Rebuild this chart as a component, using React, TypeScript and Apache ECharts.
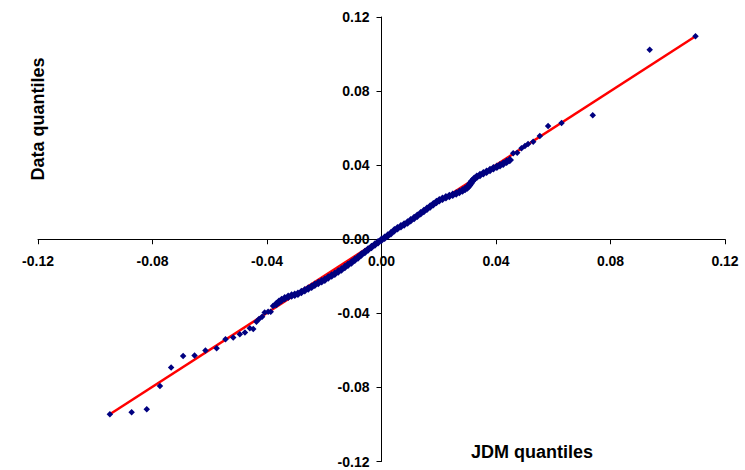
import React, { useEffect, useRef } from "react";
import * as echarts from "echarts";

// Theoretical (JDM) quantiles and the matching empirical data quantiles.
// Lower tail, dense centre, upper tail.
const lowerTail: [number, number][] = [
  [-0.0949, -0.0945], [-0.0873, -0.0934], [-0.082, -0.0918], [-0.0774, -0.0792],
  [-0.0735, -0.0693], [-0.0693, -0.063], [-0.0653, -0.0628], [-0.0615, -0.0601],
  [-0.0576, -0.0588], [-0.0545, -0.054], [-0.0518, -0.0531], [-0.0495, -0.0513],
  [-0.0477, -0.0504], [-0.046, -0.048], [-0.0448, -0.0484], [-0.0437, -0.0445],
  [-0.0428, -0.043], [-0.0417, -0.0418], [-0.0408, -0.0396], [-0.0396, -0.0391],
  [-0.0387, -0.0391], [-0.0379, -0.036], [-0.0373, -0.0355],
];

const centre: [number, number][] = [
  [-0.0367, -0.0349], [-0.0358, -0.0338], [-0.0349, -0.0328], [-0.0338, -0.0319],
  [-0.0326, -0.031], [-0.0314, -0.0304], [-0.0303, -0.03], [-0.0292, -0.0294],
  [-0.028, -0.0285], [-0.0268, -0.0276], [-0.0256, -0.0266], [-0.0244, -0.0256],
  [-0.0233, -0.0246], [-0.0221, -0.0236], [-0.0209, -0.0227], [-0.0198, -0.0218],
  [-0.0186, -0.0207], [-0.0174, -0.0196], [-0.0163, -0.0186], [-0.0151, -0.0174],
  [-0.014, -0.0163], [-0.0128, -0.015], [-0.0117, -0.0138], [-0.0105, -0.0125],
  [-0.0093, -0.0111], [-0.0082, -0.0098], [-0.007, -0.0083], [-0.0058, -0.0069],
  [-0.0047, -0.0056], [-0.0035, -0.0042], [-0.0023, -0.0029], [-0.0012, -0.0016],
  [0.0, -0.0003], [0.0011, 0.0008], [0.0022, 0.002], [0.0033, 0.0033],
  [0.0045, 0.0048], [0.0056, 0.0059], [0.0068, 0.007], [0.0079, 0.008],
  [0.0091, 0.0091], [0.0102, 0.0102], [0.0114, 0.0115], [0.0125, 0.0127],
  [0.0137, 0.014], [0.0148, 0.0153], [0.0159, 0.0165], [0.017, 0.0177],
  [0.0181, 0.0189], [0.0192, 0.0201], [0.0202, 0.021], [0.0213, 0.0219],
  [0.0225, 0.0227], [0.0237, 0.0233], [0.0249, 0.024], [0.0261, 0.0247],
  [0.0272, 0.0255], [0.0283, 0.0263], [0.0292, 0.0271], [0.03, 0.028],
  [0.0306, 0.029], [0.0311, 0.0301], [0.0316, 0.0313], [0.0324, 0.0326],
  [0.0333, 0.0338], [0.0344, 0.0347], [0.0356, 0.0356], [0.0367, 0.0365],
  [0.0379, 0.0374], [0.0391, 0.0383], [0.0403, 0.0392], [0.0414, 0.04],
  [0.0425, 0.0408], [0.0437, 0.0418], [0.0448, 0.0428],
];

const upperTail: [number, number][] = [
  [0.046, 0.0464], [0.0474, 0.0467], [0.0489, 0.0491], [0.0501, 0.0504],
  [0.0512, 0.0514], [0.053, 0.0527], [0.0553, 0.0558], [0.0582, 0.0612],
  [0.0629, 0.0628], [0.0738, 0.0669], [0.0937, 0.1023], [0.1097, 0.1096],
];

// Reference line through the extreme quantiles.
const fitLine: [number, number][] = [
  [-0.0949, -0.0945],
  [0.1097, 0.1096],
];

const axisMin = -0.12;
const axisMax = 0.12;
const axisStep = 0.04;

const FONT = "'Liberation Sans', Arial, sans-serif";
const MARKER = "#000080";

// Plot frame (pixels)
const W = 745;
const H = 470;
const GRID = { left: 38, right: 20, top: 17, bottom: 8.5 };

export default function App() {
  const ref = useRef<HTMLDivElement>(null);

  useEffect(() => {
    if (!ref.current) return;
    const chart = echarts.init(ref.current, undefined, { renderer: "svg" });

    // Axes cross at the origin: shift each axis from its grid edge to zero.
    const plotW = W - GRID.left - GRID.right;
    const plotH = H - GRID.top - GRID.bottom;
    const xShift = -(plotH * (0 - axisMin)) / (axisMax - axisMin);
    const yShift = -(plotW * (0 - axisMin)) / (axisMax - axisMin);

    const axisCommon = {
      type: "value" as const,
      min: axisMin,
      max: axisMax,
      interval: axisStep,
      splitLine: { show: false },
      axisLine: { onZero: false, lineStyle: { color: "#000", width: 1 } },
      axisTick: { show: true, length: 5, lineStyle: { color: "#000" } },
      axisLabel: {
        color: "#000",
        fontFamily: FONT,
        fontWeight: "bold" as const,
        fontSize: 14,
        formatter: (v: number) => v.toFixed(2),
      },
    };

    chart.setOption({
      animation: false,
      backgroundColor: "#fff",
      grid: { ...GRID, containLabel: false, outerBoundsMode: "none" },
      xAxis: {
        ...axisCommon,
        position: "bottom",
        offset: xShift,
        axisLabel: { ...axisCommon.axisLabel, margin: 15 },
      },
      yAxis: {
        ...axisCommon,
        position: "left",
        offset: yShift,
        axisLabel: { ...axisCommon.axisLabel, margin: 12 },
      },
      series: [
        {
          type: "line",
          data: fitLine,
          symbol: "none",
          lineStyle: { color: "#ff0000", width: 2.5 },
          z: 1,
        },
        {
          type: "scatter",
          data: centre,
          symbol: "diamond",
          symbolSize: 8.5,
          itemStyle: { color: MARKER, opacity: 1 },
          z: 2,
        },
        {
          type: "scatter",
          data: [...lowerTail, ...upperTail],
          symbol: "diamond",
          symbolSize: 6.5,
          itemStyle: { color: MARKER, opacity: 1 },
          z: 2,
        },
      ],
      graphic: [
        {
          type: "text",
          x: 38,
          y: 119,
          rotation: Math.PI / 2,
          style: {
            text: "Data quantiles",
            fontFamily: FONT,
            fontWeight: "bold",
            fontSize: 18,
            fill: "#000",
            align: "center",
            verticalAlign: "middle",
          },
        },
        {
          type: "text",
          x: 532,
          y: 452,
          style: {
            text: "JDM quantiles",
            fontFamily: FONT,
            fontWeight: "bold",
            fontSize: 18,
            fill: "#000",
            align: "center",
            verticalAlign: "middle",
          },
        },
      ],
    });

    return () => chart.dispose();
  }, []);

  return (
    <div
      ref={ref}
      style={{ position: "fixed", left: 0, top: 0, width: W, height: H }}
    />
  );
}
